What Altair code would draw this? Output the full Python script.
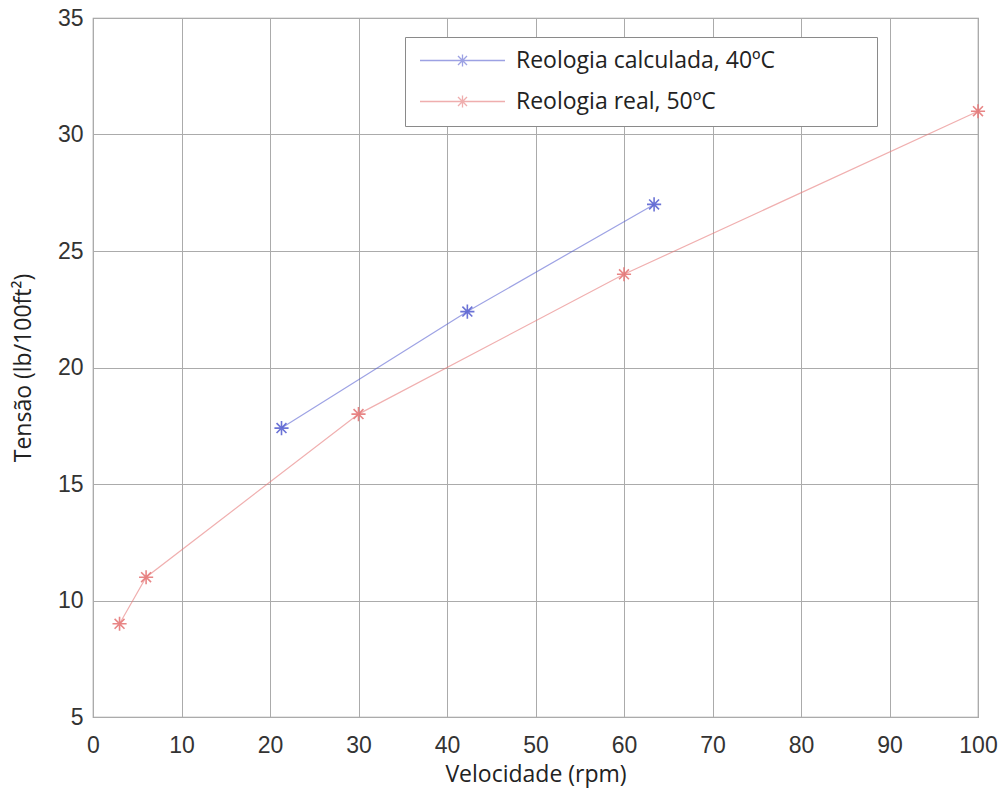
import altair as alt
import pandas as pd

# ---- data ----
calc_name = "Reologia calculada, 40ºC"
real_name = "Reologia real, 50ºC"
calc_x = [21.3, 42.3, 63.4]
calc_y = [17.4, 22.4, 27.0]
real_x = [3, 6, 30, 60, 100]
real_y = [9.0, 11.0, 18.0, 24.0, 31.0]

x_ticks = [0, 10, 20, 30, 40, 50, 60, 70, 80, 90, 100]
y_ticks = [5, 10, 15, 20, 25, 30, 35]

df = pd.DataFrame({
    "serie": [calc_name] * len(calc_x) + [real_name] * len(real_x),
    "vel": calc_x + real_x,
    "tens": calc_y + real_y,
    "ordem": list(range(len(calc_x))) + list(range(len(real_x))),
})

series_domain = [calc_name, real_name]
series_colors = ["#5b64d2", "#e67a7a"]

ASTERISK = "M-1,0L1,0M0,-1L0,1M-0.7,-0.7L0.7,0.7M-0.7,0.7L0.7,-0.7"
LEGEND_SYMBOL = ("M-4.25,0H4.25M-0.6,0H0.6M0,-0.6V0.6"
                 "M-0.45,-0.45L0.45,0.45M-0.45,0.45L0.45,-0.45")

x_enc = alt.X("vel:Q", title="Velocidade (rpm)",
              scale=alt.Scale(domain=[0, 100], nice=False, zero=False),
              axis=alt.Axis(values=x_ticks, ticks=False, labelPadding=17,
                            titlePadding=6, domain=False, grid=True,
                            labelFlush=False))
y_enc = alt.Y("tens:Q", title="Tensão (lb/100ft²)",
              scale=alt.Scale(domain=[5, 35], nice=False, zero=False),
              axis=alt.Axis(values=y_ticks, ticks=False, labelPadding=10,
                            titlePadding=22, domain=False, grid=True,
                            labelFlush=False))

color_scale = alt.Scale(domain=series_domain, range=series_colors)
# non-breaking spaces closed by a zero-width space so Vega keeps them
pad = "\u00a0" * 15 + "\u200b"
legend = alt.Legend(
    title=None, orient="none", legendX=312, legendY=19,
    symbolType=LEGEND_SYMBOL, symbolSize=400, symbolStrokeWidth=1.3,
    symbolOffset=34, labelOffset=42, rowPadding=17, padding=12,
    labelFont="Open Sans", labelFontSize=23, labelColor="#222",
    labelLimit=800,
    strokeColor="#8a8a8a", fillColor="white",
    labelExpr="datum.label + '" + pad + "'",
)

lines = alt.Chart(df).mark_line(strokeWidth=1.2, opacity=0.6).encode(
    x=x_enc, y=y_enc, order="ordem:Q",
    color=alt.Color("serie:N", scale=color_scale, legend=legend),
)
points = alt.Chart(df).mark_point(shape=ASTERISK, size=200, filled=False,
                                  strokeWidth=1.6, opacity=0.9).encode(
    x=x_enc, y=y_enc,
    color=alt.Color("serie:N", scale=color_scale, legend=legend),
)

chart = (lines + points).properties(
    width=885, height=699,
    background="white",
    autosize=alt.AutoSizeParams(type="none"),
    padding={"left": 93, "top": 18, "right": 27, "bottom": 73},
).configure_view(
    stroke="#9a9a9a", strokeWidth=1.2,
).configure_axis(
    labelFont="Liberation Sans", labelFontSize=23, labelColor="#333",
    titleFont="Open Sans", titleFontSize=23, titleColor="#222",
    titleFontWeight="normal",
    gridColor="#ababab", gridWidth=1, gridOpacity=1,
)

chart.save("out.html", embed_options={"renderer": "svg", "actions": False})
